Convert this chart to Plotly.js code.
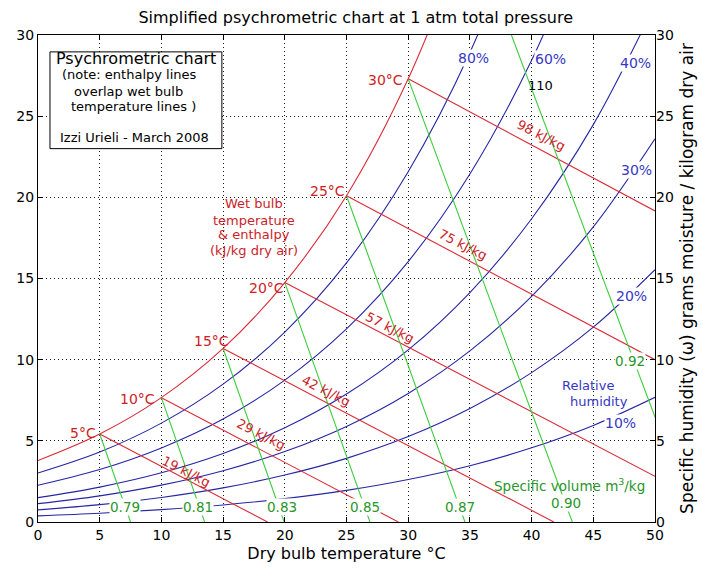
<!DOCTYPE html>
<html><head><meta charset="utf-8">
<script src="https://cdn.plot.ly/plotly-3.0.1.min.js"></script>
<style>html,body{margin:0;padding:0;background:#fff;}#chart{width:703px;height:568px;}</style>
</head><body><div id="chart"></div>
<script>
// ---- data ----
const dryBulb = [0,5,10,15,20,25,30,35,40,45,50];
const wSaturation = [3.79,5.42,7.66,10.69,14.75,20.10,27.30,36.80];
const wRH80 = [3.02,4.31,6.09,8.49,11.70,15.96,21.58,28.92,38.50];
const wRH60 = [2.26,3.23,4.56,6.34,8.74,11.90,16.04,21.44,28.44,37.46];
const wRH40 = [1.50,2.15,3.03,4.22,5.80,7.88,10.60,14.13,18.68,24.48,31.88];
const wRH30 = [1.13,1.61,2.27,3.16,4.34,5.89,7.92,10.54,13.90,18.18,23.61];
const wRH20 = [0.75,1.07,1.51,2.10,2.89,3.92,5.26,6.99,9.20,12.00,15.54];
const wRH10 = [0.38,0.54,0.76,1.05,1.44,1.95,2.62,3.47,4.57,5.95,7.68];
const rhLabels = ['80%','60%','40%','30%','20%','10%'];

const wetBulbT = [5,10,15,20,25,30];
const wetBulbW = [5.42,7.66,10.69,14.75,20.10,27.30];
const tempLabels = ['5°C','10°C','15°C','20°C','25°C','30°C'];
const enthEndT = [18.6,29.2,41.8,50,50,50];
const enthEndW = [0,0,0,2.81,10.0,19.16];
const enthLabels = ['19 kJ/kg','29 kJ/kg','42 kJ/kg','57 kJ/kg','75 kJ/kg','98 kJ/kg'];

const volStartT = [5,10,15,20,25,30,35];
const volStartW = [5.42,7.66,10.69,14.75,20.10,27.30,36.80];
const volEndT = [7.5,13.5,19.95,26.9,34.6,43.3,53.2];
const volEndW = [0,0,0,0,0,0,0];
const volLabels = ['0.79','0.81','0.83','0.85','0.87','0.90','0.92'];

const xTicks = [0,5,10,15,20,25,30,35,40,45,50];
const yTicks = [0,5,10,15,20,25,30];

// ---- styling ----
const FONT = 'DejaVu Sans, Liberation Sans, Arial, sans-serif';
const RED = 'rgb(218,44,56)', BLUE = 'rgb(38,38,165)', GREEN = 'rgb(60,205,60)';
const RED_T = 'rgb(205,35,40)', BLUE_T = 'rgb(55,55,195)', GREEN_T = 'rgb(40,150,40)';

const traces = [];
traces.push({x: dryBulb.slice(0, wSaturation.length), y: wSaturation, yaxis: 'y2', mode: 'lines',
  line: {color: RED, width: 1.1, shape: 'spline', smoothing: 1}, hoverinfo: 'skip'});
[wRH80, wRH60, wRH40, wRH30, wRH20, wRH10].forEach(w => {
  traces.push({x: dryBulb.slice(0, w.length), y: w, mode: 'lines',
    line: {color: BLUE, width: 1.1, shape: 'spline', smoothing: 1}, hoverinfo: 'skip'});
});
wetBulbT.forEach((t, i) => {
  traces.push({x: [t, enthEndT[i]], y: [wetBulbW[i], enthEndW[i]], mode: 'lines',
    line: {color: RED, width: 1.1}, hoverinfo: 'skip'});
});
volStartT.forEach((t, i) => {
  traces.push({x: [t, volEndT[i]], y: [volStartW[i], volEndW[i]], mode: 'lines',
    line: {color: GREEN, width: 1.1}, hoverinfo: 'skip'});
});

// ---- text placement ----
const ann = [];
function txt(text, x, y, size, color, extra) {
  ann.push(Object.assign({text, x, y, xref: 'x', yref: 'y', showarrow: false,
    xanchor: 'center', yanchor: 'middle', font: {family: FONT, size, color}}, extra || {}));
}
const rhPos = [[35.3,28.6],[41.5,28.5],[48.4,28.3],[48.5,21.7],[48.1,13.9],[47.2,6.1]];
rhLabels.forEach((s, i) => txt(s, rhPos[i][0], rhPos[i][1], 14, BLUE_T, {bgcolor: 'white', borderpad: 0}));
txt('Relative', 44.6, 8.4, 13, BLUE_T);
txt('humidity', 45.5, 7.45, 13, BLUE_T);

const tPos = [[3.65,5.5],[8.1,7.6],[14.1,11.15],[18.5,14.4],[23.5,20.4],[28.2,27.2]];
tempLabels.forEach((s, i) => txt(s, tPos[i][0], tPos[i][1], 14, RED_T));

const ePos = [[12.0,3.1],[18.1,5.4],[23.3,8.1],[28.5,12.0],[34.4,17.1],[40.8,23.8]];
enthLabels.forEach((s, i) => txt(s, ePos[i][0], ePos[i][1], 13, RED_T, {textangle: 27}));

const vPos = [[7.05,0.9],[13.0,0.9],[19.8,0.9],[26.5,0.9],[34.2,0.9],[42.8,1.2],[48.0,9.9]];
volLabels.forEach((s, i) => txt(s, vPos[i][0], vPos[i][1], 13.5, GREEN_T, {bgcolor: 'white', borderpad: 0}));
txt('Specific volume m<sup>3</sup>/kg', 43.1, 2.3, 13.5, GREEN_T);

txt('110', 40.7, 26.9, 13, 'black');

const wbLines = ['Wet bulb','temperature','&amp; enthalpy','(kJ/kg dry air)'];
const wbY = [19.6, 18.55, 17.7, 16.7];
wbLines.forEach((s, i) => txt(s, 17.5, wbY[i], 13, RED_T));

const boxLines = ['Psychrometric chart','(note: enthalpy lines','overlap wet bulb','temperature lines )','Izzi Urieli - March 2008'];
const boxX = [7.95, 7.45, 7.3, 7.7, 7.8];
const boxY = [28.55, 27.55, 26.55, 25.6, 23.7];
const boxSize = [16, 13, 13, 13, 13];
boxLines.forEach((s, i) => txt(s, boxX[i], boxY[i], boxSize[i], 'black'));

const axisCommon = {
  showline: true, linecolor: 'black', linewidth: 1, mirror: 'ticks',
  ticks: 'inside', ticklen: 5, tickcolor: 'black',
  showgrid: true, gridcolor: 'rgba(0,0,0,0.9)', griddash: '1px,3px', gridwidth: 1,
  zeroline: false, tickfont: {family: FONT, size: 14, color: 'black'}, automargin: false
};

const layout = {
  width: 703, height: 568,
  margin: {l: 38, r: 48, t: 35, b: 46},
  paper_bgcolor: 'white', plot_bgcolor: 'white',
  showlegend: false,
  font: {family: FONT, color: 'black'},
  title: {text: 'Simplified psychrometric chart at 1 atm total pressure',
    font: {family: FONT, size: 16, color: 'black'},
    xref: 'container', x: 0.506, xanchor: 'center', yref: 'container', y: 0.970, yanchor: 'middle'},
  xaxis: Object.assign({}, axisCommon, {range: [0, 50], tickvals: xTicks,
    title: {text: 'Dry bulb temperature °C', font: {family: FONT, size: 16, color: 'black'}, standoff: 6}}),
  yaxis: Object.assign({}, axisCommon, {range: [0, 30], tickvals: yTicks}),
  yaxis2: {overlaying: 'y', side: 'right', range: [0, 30], tickvals: yTicks, ticks: '',
    showgrid: false, zeroline: false, showline: false, automargin: false,
    tickfont: {family: FONT, size: 14, color: 'black'},
    title: {text: 'Specific humidity (ω) grams moisture / kilogram dry air',
      font: {family: FONT, size: 17, color: 'black'}, standoff: 8}},
  shapes: [{type: 'rect', xref: 'x', yref: 'y', x0: 0.97, x1: 14.9, y0: 23.0, y1: 28.96,
    fillcolor: 'white', line: {color: 'black', width: 1}, layer: 'above'}],
  annotations: ann
};

Plotly.newPlot('chart', traces, layout, {displayModeBar: false, staticPlot: true});
</script></body></html>
